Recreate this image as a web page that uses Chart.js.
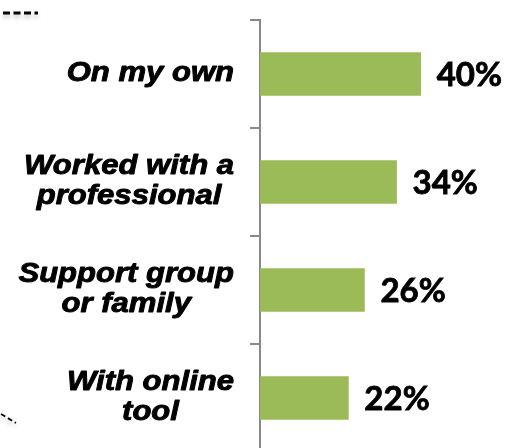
<!DOCTYPE html>
<html>
<head>
<meta charset="utf-8">
<script src="https://cdn.jsdelivr.net/npm/chart.js@4.4.1/dist/chart.umd.min.js"></script>
<style>
  html, body { margin: 0; padding: 0; background: #fff; overflow: hidden; }
  #wrap { width: 513px; height: 448px; overflow: hidden; }
</style>
</head>
<body>
<div id="wrap"><canvas id="chart" width="513" height="460"></canvas></div>
<script>
// how people went about it, share of respondents (%)
const categories = [
  ['On my own'],
  ['Worked with a', 'professional'],
  ['Support group', 'or family'],
  ['With online', 'tool']
];
const shares = [40, 34, 26, 22];

const barColor = '#9BBB59';
const axisColor = '#898989';

// category names: heavy bold italic, lines centred inside a right-aligned block
const categoryLabels = {
  id: 'categoryLabels',
  afterDraw(chart) {
    const { ctx, scales: { y } } = chart;
    const stretch = 1.15;
    const lineH = 30;
    const right = y.right - 26;
    ctx.save();
    ctx.font = 'italic bold 27px "Liberation Sans", Arial, sans-serif';
    ctx.fillStyle = '#000';
    ctx.strokeStyle = '#000';
    ctx.lineWidth = 0.9;
    ctx.lineJoin = 'round';
    ctx.textAlign = 'center';
    ctx.textBaseline = 'middle';
    categories.forEach((lines, i) => {
      const maxW = Math.max(...lines.map(l => ctx.measureText(l).width)) * stretch;
      const cx = right - maxW / 2;
      const cy = y.getPixelForValue(i);
      lines.forEach((line, j) => {
        const ly = cy + (j - (lines.length - 1) / 2) * lineH;
        ctx.save();
        ctx.translate(cx, ly);
        ctx.scale(stretch, 1);
        ctx.fillText(line, 0, 0);
        ctx.strokeText(line, 0, 0);
        ctx.restore();
      });
    });
    ctx.restore();
  }
};

// percentage next to the end of each bar
const valueLabels = {
  id: 'valueLabels',
  afterDatasetsDraw(chart) {
    const { ctx } = chart;
    const meta = chart.getDatasetMeta(0);
    ctx.save();
    ctx.font = 'bold 33px Lato, "Open Sans", sans-serif';
    ctx.fillStyle = '#000';
    ctx.strokeStyle = '#000';
    ctx.lineWidth = 0.8;
    ctx.textAlign = 'left';
    ctx.textBaseline = 'middle';
    meta.data.forEach((bar, i) => {
      const t = shares[i] + '%';
      ctx.fillText(t, bar.x + 16, bar.y + 1);
      ctx.strokeText(t, bar.x + 16, bar.y + 1);
    });
    ctx.restore();
  }
};

// bits of dashed connectors poking in at the slide edges
const edgeFragments = {
  id: 'edgeFragments',
  afterDraw(chart) {
    const { ctx } = chart;
    ctx.save();
    ctx.strokeStyle = '#000';
    ctx.shadowColor = 'rgba(0,0,0,0.25)';
    ctx.shadowBlur = 4;
    ctx.shadowOffsetY = 3;
    ctx.lineWidth = 3;
    ctx.setLineDash([7, 3.5]);
    ctx.beginPath();
    ctx.moveTo(3, 13);
    ctx.lineTo(38, 13);
    ctx.stroke();
    ctx.lineWidth = 1.8;
    ctx.setLineDash([5, 3]);
    ctx.beginPath();
    ctx.moveTo(1, 414);
    ctx.lineTo(16, 423);
    ctx.stroke();
    ctx.restore();
  }
};

new Chart(document.getElementById('chart'), {
  type: 'bar',
  data: {
    labels: categories,
    datasets: [{
      data: shares,
      backgroundColor: barColor,
      barThickness: 43
    }]
  },
  options: {
    indexAxis: 'y',
    responsive: false,
    animation: false,
    devicePixelRatio: 1,
    layout: { padding: { top: 20, right: 12, bottom: 8, left: 0 } },
    plugins: { legend: { display: false }, tooltip: { enabled: false } },
    scales: {
      x: { display: false, min: 0, max: 60 },
      y: {
        afterFit(scale) { scale.width = 260; },
        ticks: { display: false },
        border: { display: true, color: axisColor, width: 2 },
        grid: {
          offset: true,
          drawOnChartArea: false,
          drawTicks: true,
          tickLength: 10,
          color: axisColor,
          lineWidth: 2
        }
      }
    }
  },
  plugins: [categoryLabels, valueLabels, edgeFragments]
});
</script>
</body>
</html>
